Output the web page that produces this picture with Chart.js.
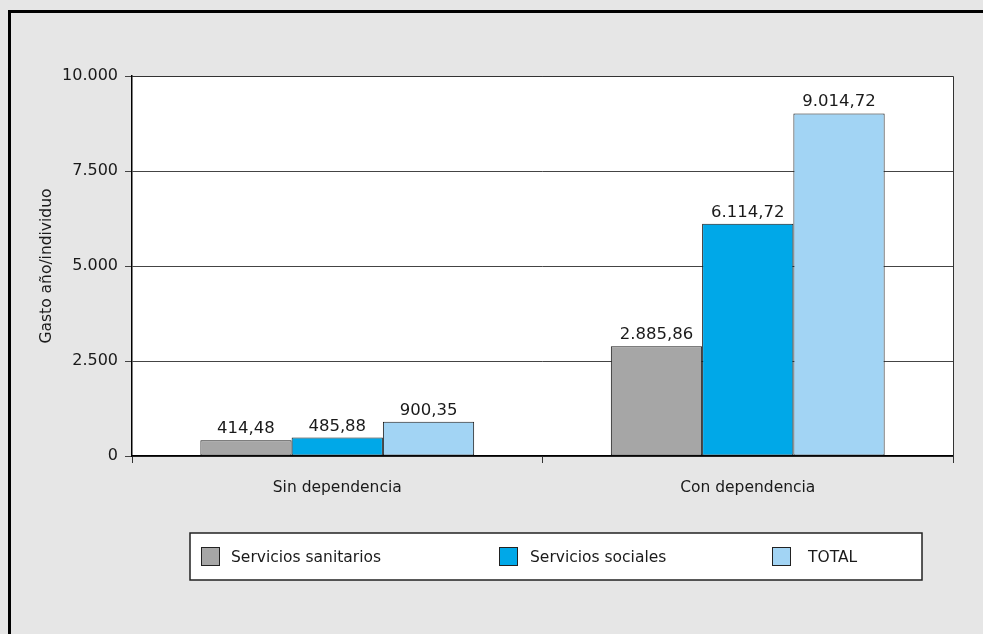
<!DOCTYPE html>
<html>
<head>
<meta charset="utf-8">
<script src="https://cdn.jsdelivr.net/npm/chart.js@4.4.1/dist/chart.umd.min.js"></script>
<style>
  html, body { margin: 0; padding: 0; background: #e6e6e6; overflow: hidden; }
  canvas { display: block; }
</style>
</head>
<body>
<canvas id="chart" width="983" height="634"></canvas>
<script>
const categories = ["Sin dependencia", "Con dependencia"];
const seriesNames = ["Servicios sanitarios", "Servicios sociales", "TOTAL"];
const sanitarios = [414.48, 2885.86];
const sociales = [485.88, 6114.72];
const total = [900.35, 9014.72];
const yTicks = [0, 2500, 5000, 7500, 10000];

const colors = ["#a6a6a6", "#00a8e8", "#a2d4f4"];
const FONT = "'DejaVu Sans', sans-serif";
const TEXT = "#1a1a1a";

// spanish number format: 9.014,72
function fmt(v, dec) {
  const parts = v.toFixed(dec).split(".");
  parts[0] = parts[0].replace(/\B(?=(\d{3})+(?!\d))/g, ".");
  return parts.join(",");
}

const framePlugin = {
  id: "frame",
  beforeDraw(chart) {
    const { ctx, chartArea } = chart;
    ctx.save();
    ctx.fillStyle = "#e6e6e6";
    ctx.fillRect(0, 0, chart.width, chart.height);
    ctx.strokeStyle = "#000";
    ctx.lineWidth = 3;
    ctx.beginPath();
    ctx.moveTo(9.5, chart.height + 10);
    ctx.lineTo(9.5, 11.5);
    ctx.lineTo(chart.width + 10, 11.5);
    ctx.stroke();
    ctx.fillStyle = "#fff";
    ctx.fillRect(chartArea.left, chartArea.top, chartArea.right - chartArea.left, chartArea.bottom - chartArea.top);
    ctx.restore();
  },
  afterDraw(chart) {
    const { ctx, chartArea } = chart;
    ctx.save();
    ctx.strokeStyle = "#333";
    ctx.lineWidth = 1;
    ctx.beginPath();
    ctx.moveTo(chartArea.left, chartArea.top + 0.5);
    ctx.lineTo(chartArea.right + 0.5, chartArea.top + 0.5);
    ctx.lineTo(chartArea.right + 0.5, chartArea.bottom + 6);
    ctx.stroke();

    // legend box
    const bx = 190, by = 533, bw = 732, bh = 47;
    ctx.fillStyle = "#fff";
    ctx.fillRect(bx, by, bw, bh);
    ctx.strokeStyle = "#222";
    ctx.lineWidth = 1.5;
    ctx.strokeRect(bx, by, bw, bh);
    const itemX = [201, 499, 772];
    const textX = [231, 530, 808];
    ctx.font = "15.5px " + FONT;
    ctx.textBaseline = "middle";
    ctx.textAlign = "left";
    chart.data.datasets.forEach((ds, i) => {
      ctx.fillStyle = ds.backgroundColor;
      ctx.fillRect(itemX[i], 547, 19, 19);
      ctx.strokeStyle = "#222";
      ctx.lineWidth = 1;
      ctx.strokeRect(itemX[i] + 0.5, 547.5, 18, 18);
      ctx.fillStyle = TEXT;
      ctx.fillText(ds.label, textX[i], 558);
    });
    ctx.restore();
  },
  afterDatasetsDraw(chart) {
    const { ctx } = chart;
    ctx.save();
    ctx.font = "16.5px " + FONT;
    ctx.fillStyle = TEXT;
    ctx.textAlign = "center";
    ctx.textBaseline = "bottom";
    chart.data.datasets.forEach((ds, i) => {
      chart.getDatasetMeta(i).data.forEach((bar, j) => {
        ctx.fillText(fmt(ds.data[j], 2), bar.x, bar.y - 3);
      });
    });
    ctx.restore();
  }
};

new Chart(document.getElementById("chart"), {
  type: "bar",
  data: {
    labels: categories,
    datasets: [sanitarios, sociales, total].map((d, i) => ({
      label: seriesNames[i],
      data: d,
      backgroundColor: colors[i],
      borderColor: "#1a1a1a",
      borderWidth: 1,
      borderSkipped: false,
      barPercentage: 1,
      categoryPercentage: 0.667
    }))
  },
  options: {
    responsive: false,
    animation: false,
    layout: { padding: { top: 76, right: 30, left: 0, bottom: 134 } },
    plugins: { legend: { display: false }, tooltip: { enabled: false } },
    scales: {
      x: {
        afterFit(s) { s.height = 44; },
        grid: { offset: true, drawOnChartArea: false, tickLength: 7, color: "#333" },
        border: { color: "#000", width: 1.5 },
        ticks: { color: TEXT, font: { family: FONT, size: 15.5 }, padding: 16 }
      },
      y: {
        min: 0,
        max: 10000,
        afterFit(s) { s.width = 132; },
        afterBuildTicks(s) { s.ticks = yTicks.map(v => ({ value: v })); },
        grid: { color: "#444", tickLength: 7, lineWidth: 1 },
        border: { color: "#000", width: 1.5 },
        ticks: { color: TEXT, font: { family: FONT, size: 16 }, padding: 7, callback: v => fmt(v, 0) },
        title: {
          display: true,
          text: "Gasto año/individuo",
          color: TEXT,
          font: { family: FONT, size: 15.5 },
          padding: { top: 38 }
        }
      }
    }
  },
  plugins: [framePlugin]
});
</script>
</body>
</html>
